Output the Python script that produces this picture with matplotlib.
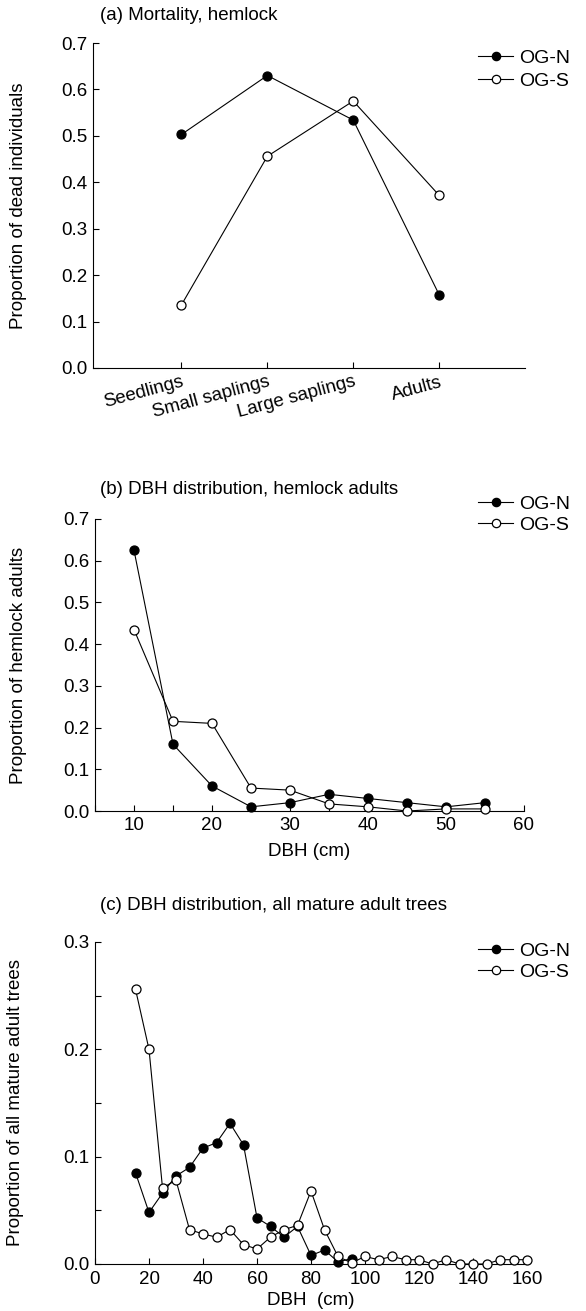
import numpy as np
import matplotlib
matplotlib.use("Agg")
import matplotlib.pyplot as plt
from matplotlib.ticker import MultipleLocator

plt.rcParams['font.family'] = ['Liberation Sans', 'DejaVu Sans']
plt.rcParams['font.size'] = 13.5

# (a) mortality by stage
stages = ['Seedlings', 'Small saplings', 'Large saplings', 'Adults']
mort_ogn = [0.503, 0.630, 0.534, 0.158]
mort_ogs = [0.136, 0.456, 0.575, 0.372]

# (b) DBH distribution, hemlock adults
dbh_hem = [10, 15, 20, 25, 30, 35, 40, 45, 50, 55]
hem_ogn = [0.625, 0.160, 0.060, 0.010, 0.020, 0.040, 0.030, 0.020, 0.010, 0.020]
hem_ogs = [0.435, 0.215, 0.210, 0.055, 0.050, 0.017, 0.010, 0.000, 0.005, 0.005]

# (c) DBH distribution, all mature adult trees
dbh_all_n = [15, 20, 25, 30, 35, 40, 45, 50, 55, 60, 65, 70, 75, 80, 85, 90, 95]
all_ogn = [0.085, 0.048, 0.066, 0.082, 0.090, 0.108, 0.113, 0.131, 0.111,
           0.043, 0.035, 0.025, 0.035, 0.008, 0.013, 0.002, 0.005]
dbh_all_s = [15, 20, 25, 30, 35, 40, 45, 50, 55, 60, 65, 70, 75, 80, 85, 90,
             95, 100, 105, 110, 115, 120, 125, 130, 135, 140, 145, 150, 155, 160]
all_ogs = [0.256, 0.200, 0.071, 0.078, 0.032, 0.028, 0.025, 0.032, 0.018,
           0.014, 0.025, 0.032, 0.036, 0.068, 0.032, 0.007, 0.001, 0.007,
           0.004, 0.007, 0.004, 0.004, 0.000, 0.004, 0.000, 0.000, 0.000,
           0.004, 0.004, 0.004]

W, H = 586, 1311
FS = 13.5
fig = plt.figure(figsize=(W / 100, H / 100), dpi=100)


def px_axes(left, top, right, bottom):
    return fig.add_axes([left / W, 1 - bottom / H, (right - left) / W, (bottom - top) / H])


def style(ax):
    for s in ['top', 'right']:
        ax.spines[s].set_visible(False)
    for s in ['left', 'bottom']:
        ax.spines[s].set_linewidth(0.8)
    ax.tick_params(direction='in', length=4, width=0.8, labelsize=FS, pad=4)
    ax.tick_params(which='minor', direction='in', length=4, width=0.8)


def draw_series(ax, x, y, filled):
    ax.plot(x, y, color='black', lw=0.8, marker='o', ms=6.5,
            mfc='black' if filled else 'white', mec='black', mew=0.9,
            clip_on=False, zorder=3 if filled else 4)


def legend(ax, top_px, spacing=0.2):
    leg = ax.legend(['OG-N', 'OG-S'], loc='upper left',
                    bbox_to_anchor=(478 / W, 1 - top_px / H),
                    bbox_transform=fig.transFigure, frameon=False,
                    handlelength=1.8, handletextpad=0.3, labelspacing=spacing,
                    borderpad=0, borderaxespad=0, fontsize=FS + 0.5)
    for h in leg.legend_handles:
        h.set_markersize(6)


# ---- (a)
ax_a = px_axes(93, 43, 525, 368)
xa = np.arange(len(stages))
draw_series(ax_a, xa, mort_ogn, True)
draw_series(ax_a, xa, mort_ogs, False)
ax_a.set_xlim(-1.03, 4.0)
ax_a.set_ylim(0, 0.7)
ax_a.set_xticks(xa)
ax_a.set_xticklabels(stages, rotation=15, ha='right', rotation_mode='anchor')
ax_a.yaxis.set_major_locator(MultipleLocator(0.1))
ax_a.yaxis.set_major_formatter(plt.FormatStrFormatter('%.1f'))
ax_a.set_ylabel('Proportion of dead individuals', fontsize=FS)
ax_a.yaxis.set_label_coords(-0.153, 0.5)
style(ax_a)
legend(ax_a, 49, spacing=0.3)
fig.text(100 / W, 1 - 15 / H, '(a) Mortality, hemlock', fontsize=FS, va='center')

# ---- (b)
ax_b = px_axes(95, 519, 524, 811)
draw_series(ax_b, dbh_hem, hem_ogn, True)
draw_series(ax_b, dbh_hem, hem_ogs, False)
ax_b.set_xlim(5, 60)
ax_b.set_ylim(0, 0.7)
ax_b.set_xticks([10, 20, 30, 40, 50, 60])
ax_b.xaxis.set_minor_locator(MultipleLocator(5))
ax_b.yaxis.set_major_locator(MultipleLocator(0.1))
ax_b.yaxis.set_major_formatter(plt.FormatStrFormatter('%.1f'))
ax_b.set_xlabel('DBH (cm)', fontsize=FS, labelpad=7)
ax_b.set_ylabel('Proportion of hemlock adults', fontsize=FS)
ax_b.yaxis.set_label_coords(-0.158, 0.5)
style(ax_b)
legend(ax_b, 495)
fig.text(100 / W, 1 - 490 / H, '(b) DBH distribution, hemlock adults', fontsize=FS, va='center')

# ---- (c)
ax_c = px_axes(95, 942, 527, 1264)
draw_series(ax_c, dbh_all_n, all_ogn, True)
draw_series(ax_c, dbh_all_s, all_ogs, False)
ax_c.set_xlim(0, 160)
ax_c.set_ylim(0, 0.3)
ax_c.xaxis.set_major_locator(MultipleLocator(20))
ax_c.yaxis.set_major_locator(MultipleLocator(0.1))
ax_c.yaxis.set_minor_locator(MultipleLocator(0.05))
ax_c.yaxis.set_major_formatter(plt.FormatStrFormatter('%.1f'))
ax_c.set_xlabel('DBH  (cm)', fontsize=FS, labelpad=3)
ax_c.set_ylabel('Proportion of all mature adult trees', fontsize=FS)
ax_c.yaxis.set_label_coords(-0.165, 0.5)
style(ax_c)
ax_c.tick_params(axis='x', pad=5)
legend(ax_c, 942)
fig.text(100 / W, 1 - 905 / H, '(c) DBH distribution, all mature adult trees', fontsize=FS, va='center')

fig.savefig('out.png', dpi=100)
